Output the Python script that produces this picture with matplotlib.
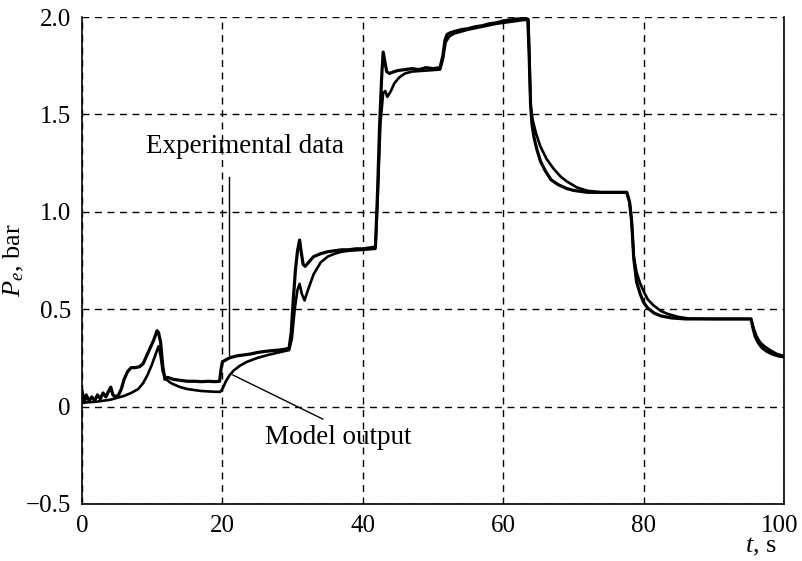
import matplotlib
matplotlib.use('Agg')
import matplotlib.pyplot as plt
import matplotlib.transforms as mtransforms

plt.rcParams['font.family'] = ['Liberation Serif', 'DejaVu Serif']
plt.rcParams['mathtext.fontset'] = 'custom'
plt.rcParams['mathtext.rm'] = 'Liberation Serif'
plt.rcParams['mathtext.it'] = 'Liberation Serif:italic'

# experimental data (noisy trace)
t_exp = [0, 0.3, 0.6, 1.0, 1.4, 1.8, 2.2, 2.6, 3.0, 3.4, 3.8, 4.1, 4.4, 4.8, 5.2, 5.6,
         6.0, 6.5, 7.0, 7.6, 8.2, 8.7, 9.2, 9.7, 10.2, 10.7, 10.9, 11.2, 11.5, 11.8,
         12.2, 13, 14, 15, 16, 17, 18, 19, 19.6, 19.8, 20.0, 20.5, 21, 22, 23, 24, 25,
         26, 27, 28, 29, 29.5, 29.8, 30.1, 30.4, 30.7, 31.0, 31.2, 31.5, 31.8, 32.5, 33,
         34, 35, 36, 37, 38, 39, 40, 41, 41.8, 42.1, 42.4, 42.7, 42.9, 43.1, 43.4, 43.8,
         44.5, 45, 46, 47, 48, 49, 50, 51, 51.4, 51.7, 52.0, 52.5, 53, 54, 55, 56, 57,
         58, 59, 60, 61, 62, 63, 63.5, 63.7, 63.9, 64.1, 64.4, 64.8, 65.3, 66, 66.8,
         67.8, 69, 70, 71, 72, 74, 76, 77.6, 78.0, 78.3, 78.6, 79.0, 79.5, 80.0, 80.6,
         81.5, 82.5, 84, 86, 88, 90, 92, 94, 95.3, 95.6, 95.9, 96.3, 96.8, 97.5, 98.3,
         99.2, 100]
p_exp = [0.08, 0.02, 0.06, 0.03, 0.05, 0.03, 0.06, 0.04, 0.07, 0.05, 0.08, 0.10, 0.06,
         0.05, 0.06, 0.09, 0.14, 0.18, 0.20, 0.20, 0.205, 0.22, 0.26, 0.30, 0.34, 0.39,
         0.38, 0.33, 0.21, 0.14, 0.15, 0.14, 0.135, 0.13, 0.13, 0.128, 0.13, 0.128, 0.13,
         0.19, 0.23, 0.24, 0.25, 0.26, 0.265, 0.27, 0.278, 0.283, 0.287, 0.29, 0.295,
         0.30, 0.38, 0.55, 0.70, 0.80, 0.855, 0.80, 0.73, 0.72, 0.75, 0.77, 0.785, 0.795,
         0.80, 0.805, 0.805, 0.81, 0.81, 0.815, 0.82, 1.10, 1.45, 1.70, 1.82, 1.78, 1.72,
         1.71, 1.72, 1.725, 1.73, 1.735, 1.73, 1.74, 1.735, 1.74, 1.80, 1.88, 1.91, 1.92,
         1.925, 1.935, 1.94, 1.95, 1.955, 1.965, 1.97, 1.98, 1.985, 1.99, 1.99, 1.99,
         1.80, 1.55, 1.45, 1.38, 1.32, 1.26, 1.21, 1.165, 1.14, 1.12, 1.11, 1.105, 1.10,
         1.10, 1.10, 1.10, 1.05, 0.95, 0.76, 0.64, 0.58, 0.535, 0.505, 0.48, 0.465, 0.455,
         0.45, 0.45, 0.45, 0.45, 0.45, 0.45, 0.40, 0.36, 0.33, 0.305, 0.285, 0.27, 0.26,
         0.255]

# model output (smooth trace)
t_mod = [0, 2, 4, 5, 6, 7, 8, 8.7, 9.3, 9.9, 10.4, 10.9, 11.2, 11.5, 12, 12.5, 13, 14,
         15, 16, 17, 18, 19, 19.7, 20.0, 20.5, 21, 21.6, 22.5, 23.5, 25, 26.5, 28, 29.5,
         29.9, 30.3, 30.7, 31.0, 31.3, 31.7, 32.2, 33, 34, 35, 36, 37, 38, 40, 41.8,
         42.1, 42.5, 42.9, 43.2, 43.5, 44, 44.5, 45.2, 46, 47, 49, 51, 51.4, 51.8, 52.3,
         53, 55, 57, 59, 61, 63, 63.6, 63.9, 64.2, 64.7, 65.3, 66.2, 67.2, 68.2, 69.1,
         70.5, 72, 74, 77.6, 78.0, 78.3, 78.6, 79.0, 79.5, 80.1, 80.6, 81.4, 82.5, 83.5,
         85, 86.5, 90, 95.3, 95.7, 96.1, 96.6, 97.2, 98, 99, 100]
p_mod = [0.02, 0.025, 0.035, 0.045, 0.055, 0.07, 0.09, 0.12, 0.16, 0.21, 0.26, 0.31,
         0.26, 0.18, 0.14, 0.125, 0.115, 0.10, 0.09, 0.085, 0.08, 0.078, 0.076, 0.076,
         0.09, 0.13, 0.16, 0.185, 0.21, 0.23, 0.25, 0.265, 0.278, 0.29, 0.35, 0.50, 0.60,
         0.63, 0.58, 0.545, 0.60, 0.68, 0.74, 0.77, 0.785, 0.795, 0.80, 0.805, 0.81, 1.05,
         1.45, 1.61, 1.62, 1.59, 1.62, 1.66, 1.69, 1.71, 1.72, 1.725, 1.73, 1.78, 1.87,
         1.90, 1.915, 1.935, 1.95, 1.965, 1.975, 1.985, 1.985, 1.55, 1.47, 1.40, 1.335,
         1.27, 1.22, 1.18, 1.155, 1.125, 1.108, 1.10, 1.10, 1.05, 0.95, 0.77, 0.69, 0.633,
         0.585, 0.55, 0.52, 0.49, 0.475, 0.46, 0.452, 0.45, 0.45, 0.40, 0.36, 0.33, 0.31,
         0.29, 0.27, 0.26]

x_ticks = [0, 20, 40, 60, 80, 100]
y_ticks = [-0.5, 0, 0.5, 1.0, 1.5, 2.0]
y_tick_labels = ['\u22120.5', '0', '0.5', '1.0', '1.5', '2.0']

fig = plt.figure(figsize=(8.02, 5.61), dpi=100)
ax = fig.add_axes([82 / 802, 1 - 504 / 561, 702 / 802, 487 / 561])

ax.plot(t_mod, p_mod, color='black', lw=1.9)
ax.plot(t_exp, p_exp, color='black', lw=2.3)

ax.set_xlim(0, 100)
ax.set_ylim(-0.5, 2.0)
ax.set_xticks(x_ticks)
ax.set_yticks(y_ticks)
ax.set_yticklabels(y_tick_labels)
ax.tick_params(length=0, labelsize=18)
ax.tick_params(axis='x', pad=8)
ax.tick_params(axis='y', pad=8)
ax.grid(True, color='black', linestyle=(0, (5, 4)), lw=1)
ax.spines['top'].set_visible(False)
for s in ['left', 'bottom', 'right']:
    ax.spines[s].set_linewidth(1.2)

# nudge the last x label so it stays inside the figure
last = ax.get_xticklabels()[-1]
last.set_transform(last.get_transform() +
                   mtransforms.ScaledTranslation(-4 / 100, 0, fig.dpi_scale_trans))

ax.set_ylabel('$P_e$, bar', fontsize=19)
ax.yaxis.set_label_coords(-0.08, 0.5)
ax.set_xlabel('$t$, s', fontsize=19, loc='right')
ax.xaxis.set_label_coords(0.99, -0.065)

ax.text(9.1, 1.334, 'Experimental data', fontsize=19.5, va='center', ha='left')
ax.plot([21.0, 21.0], [1.18, 0.265], color='black', lw=1)
ax.text(26.1, -0.161, 'Model output', fontsize=19.5, va='center', ha='left')
ax.plot([21.5, 34.3], [0.162, -0.064], color='black', lw=1)

fig.savefig('out.png', dpi=100)
